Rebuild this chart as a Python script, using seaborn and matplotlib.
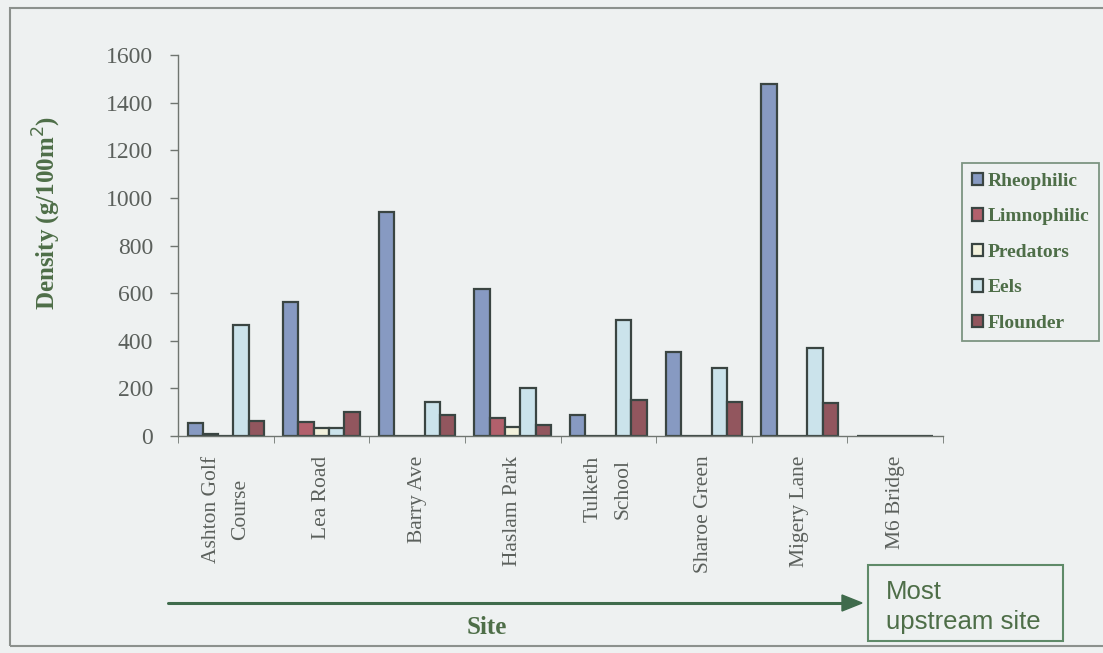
import matplotlib
matplotlib.use("Agg")
import matplotlib.pyplot as plt
from matplotlib.patches import Rectangle
import seaborn as sns
import pandas as pd

# site order, downstream -> upstream
sites = ["Ashton Golf\nCourse", "Lea Road", "Barry Ave", "Haslam Park",
         "Tulketh\nSchool", "Sharoe Green", "Migery Lane", "M6 Bridge"]
groups = ["Rheophilic", "Limnophilic", "Predators", "Eels", "Flounder"]

rheophilic  = [55, 562, 941, 619, 88, 354, 1479, 0]
limnophilic = [10, 60, 0, 74, 0, 0, 0, 0]
predators   = [0, 32, 0, 39, 0, 0, 0, 0]
eels        = [465, 32, 144, 200, 486, 285, 369, 0]
flounder    = [65, 102, 88, 46, 151, 144, 138, 0]

yticks = [0, 200, 400, 600, 800, 1000, 1200, 1400, 1600]

colors = ["#7d97cc", "#c05262", "#f6f4d8", "#c6e6f0", "#9c4c56"]

df = pd.DataFrame({
    "Site": sites * 5,
    "Group": [g for g in groups for _ in sites],
    "Density": rheophilic + limnophilic + predators + eels + flounder,
})

bg = "#eef1f1"
green = "#4e6e48"
grey_txt = "#5b605c"
serif = ["Liberation Serif", "DejaVu Serif"]

sns.set_style("white")
plt.rcParams["font.family"] = serif

fig = plt.figure(figsize=(11.03, 6.53), dpi=100, facecolor=bg)
ax = fig.add_axes([178/1103, 1 - 436/653, (943-178)/1103, (436-55)/653])
ax.set_facecolor(bg)

sns.barplot(data=df, x="Site", y="Density", hue="Group", order=sites,
            hue_order=groups, palette=colors, width=0.8,
            edgecolor="#3a4542", linewidth=1.6, ax=ax)

ax.set_ylim(0, 1600)
ax.set_xlim(-0.5, len(sites) - 0.5)
ax.set_yticks(yticks)
ax.set_yticklabels([str(v) for v in yticks], fontsize=17, color=grey_txt)
ax.tick_params(axis="y", direction="out", length=6, width=1, color="#6f7570", pad=12, left=True)
ax.set_xticks(range(len(sites)))
ax.set_xticklabels(sites, rotation=90, va="top", ha="center", fontsize=15.5,
                   color=grey_txt, linespacing=1.75)
ax.tick_params(axis="x", which="major", length=0, pad=14)
ax.set_xticks([i - 0.5 for i in range(len(sites) + 1)], minor=True)
ax.tick_params(axis="x", which="minor", direction="out", length=5, color="#6f7570", bottom=True)
for s in ["top", "right"]:
    ax.spines[s].set_visible(False)
for s in ["left", "bottom"]:
    ax.spines[s].set_color("#6f7570")
    ax.spines[s].set_linewidth(1)
ax.set_xlabel("")
ax.set_ylabel("")

handles, labels = ax.get_legend_handles_labels()
ax.legend(handles, labels, loc="upper left", bbox_to_anchor=(962/1103, 1 - 163/653),
          bbox_transform=fig.transFigure, frameon=True, fancybox=False,
          facecolor=bg, edgecolor="#7d9482", framealpha=1,
          prop={"family": serif, "weight": "bold", "size": 14},
          labelcolor=green, handlelength=0.6, handleheight=0.6,
          handletextpad=0.2, labelspacing=0.95, borderpad=0.5, borderaxespad=0)
ax.get_legend().get_frame().set_linewidth(1.3)

# axis titles
fig.text(47/1103, 1 - 213/653, "Density (g/100m$^2$)", rotation=90, ha="center", va="center",
         fontsize=18, fontweight="bold", color=green)
fig.text(487/1103, 1 - 628/653, "Site", ha="center", va="center",
         fontsize=18, fontweight="bold", color=green)

# downstream -> upstream arrow and note
fig.add_artist(plt.Line2D([168/1103, 845/1103], [1 - 603/653, 1 - 603/653],
                          color="#3f6b4c", lw=2.2))
fig.add_artist(plt.Polygon([[842/1103, 1 - 595/653], [842/1103, 1 - 611/653],
                            [862/1103, 1 - 603/653]], closed=True, color="#3f6b4c"))
fig.add_artist(Rectangle((868/1103, 1 - 641/653), (1063-868)/1103, (641-565)/653,
                         transform=fig.transFigure, fill=False, edgecolor="#5f8a68", lw=1.5))
fig.text(886/1103, 1 - 607/653, "Most\nupstream site", ha="left", va="center",
         fontsize=18.5, color=green, linespacing=1.3,
         family=["Liberation Sans Narrow", "Liberation Sans", "DejaVu Sans"])

# outer frame
fig.add_artist(Rectangle((10/1103, 1 - 646/653), 1.0, (646-8)/653,
                         transform=fig.transFigure, fill=False, edgecolor="#8c918d", lw=1.5))

fig.savefig("out.png", dpi=100, facecolor=bg)
